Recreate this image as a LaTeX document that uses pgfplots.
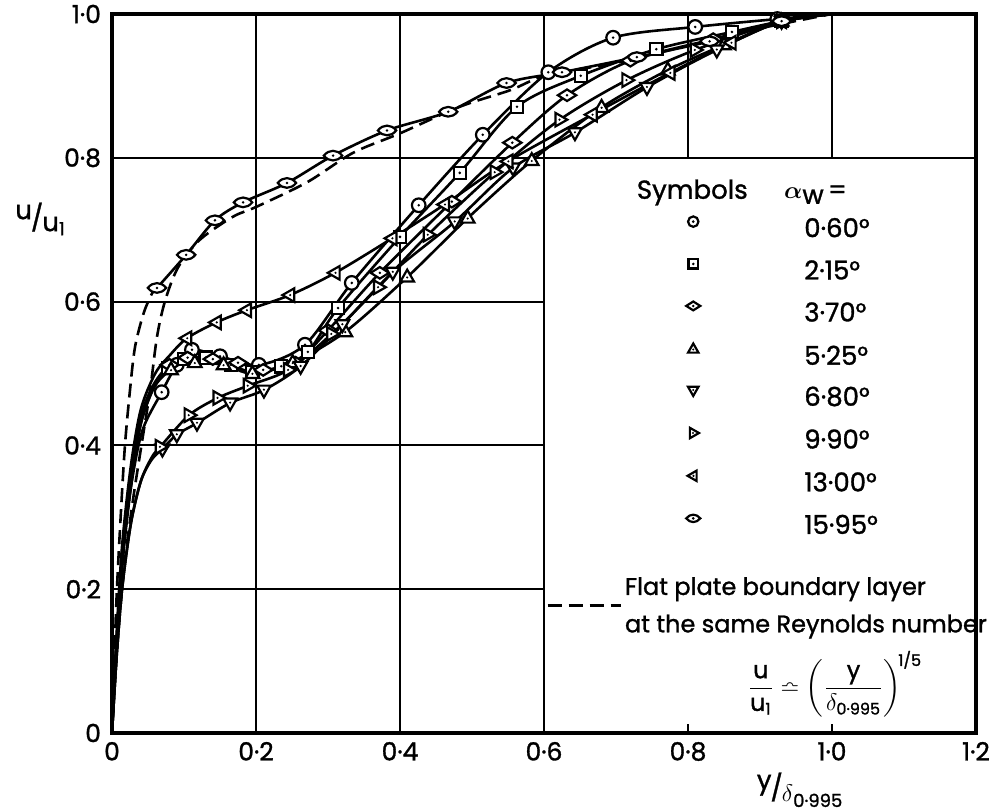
\documentclass[border=0pt]{standalone}
\usepackage{amsmath,amssymb}
\usepackage{fontspec}
\setmainfont{Poppins}[FakeBold=1.2]
\usepackage{pgfplots}
\usepackage{pgfplotstable}
\pgfplotsset{compat=1.18}

\pgfdeclareplotmark{dcircle}{%
  \pgfpathcircle{\pgfpointorigin}{\pgfplotmarksize}\pgfsetfillcolor{white}\pgfusepathqfillstroke
  \pgfpathcircle{\pgfpointorigin}{0.7pt}\pgfsetfillcolor{black}\pgfusepathqfill}
\pgfdeclareplotmark{dsquare}{%
  \pgfpathrectangle{\pgfpoint{-0.9\pgfplotmarksize}{-0.9\pgfplotmarksize}}{\pgfpoint{1.8\pgfplotmarksize}{1.8\pgfplotmarksize}}\pgfsetfillcolor{white}\pgfusepathqfillstroke
  \pgfpathcircle{\pgfpointorigin}{0.7pt}\pgfsetfillcolor{black}\pgfusepathqfill}
\pgfdeclareplotmark{ddiamond}{%
  \pgfpathmoveto{\pgfpoint{-1.35\pgfplotmarksize}{0pt}}\pgfpathlineto{\pgfpoint{0pt}{0.85\pgfplotmarksize}}\pgfpathlineto{\pgfpoint{1.35\pgfplotmarksize}{0pt}}\pgfpathlineto{\pgfpoint{0pt}{-0.85\pgfplotmarksize}}\pgfpathclose\pgfsetfillcolor{white}\pgfusepathqfillstroke
  \pgfpathcircle{\pgfpointorigin}{0.7pt}\pgfsetfillcolor{black}\pgfusepathqfill}
\pgfdeclareplotmark{deye}{%
  \pgfpathmoveto{\pgfpoint{-1.35\pgfplotmarksize}{0pt}}\pgfpathcurveto{\pgfpoint{-0.6\pgfplotmarksize}{0.95\pgfplotmarksize}}{\pgfpoint{0.6\pgfplotmarksize}{0.95\pgfplotmarksize}}{\pgfpoint{1.35\pgfplotmarksize}{0pt}}\pgfpathcurveto{\pgfpoint{0.6\pgfplotmarksize}{-0.95\pgfplotmarksize}}{\pgfpoint{-0.6\pgfplotmarksize}{-0.95\pgfplotmarksize}}{\pgfpoint{-1.35\pgfplotmarksize}{0pt}}\pgfpathclose\pgfsetfillcolor{white}\pgfusepathqfillstroke
  \pgfpathcircle{\pgfpointorigin}{0.7pt}\pgfsetfillcolor{black}\pgfusepathqfill}
\pgfdeclareplotmark{dtriup}{%
  \pgfpathmoveto{\pgfpoint{0pt}{1.1\pgfplotmarksize}}\pgfpathlineto{\pgfpoint{-1.0\pgfplotmarksize}{-0.65\pgfplotmarksize}}\pgfpathlineto{\pgfpoint{1.0\pgfplotmarksize}{-0.65\pgfplotmarksize}}\pgfpathclose\pgfsetfillcolor{white}\pgfusepathqfillstroke
  \pgfpathcircle{\pgfpoint{0pt}{-0.05\pgfplotmarksize}}{0.6pt}\pgfsetfillcolor{black}\pgfusepathqfill}
\pgfdeclareplotmark{dtridown}{%
  \pgfpathmoveto{\pgfpoint{0pt}{-1.1\pgfplotmarksize}}\pgfpathlineto{\pgfpoint{-1.0\pgfplotmarksize}{0.65\pgfplotmarksize}}\pgfpathlineto{\pgfpoint{1.0\pgfplotmarksize}{0.65\pgfplotmarksize}}\pgfpathclose\pgfsetfillcolor{white}\pgfusepathqfillstroke
  \pgfpathcircle{\pgfpoint{0pt}{0.05\pgfplotmarksize}}{0.6pt}\pgfsetfillcolor{black}\pgfusepathqfill}
\pgfdeclareplotmark{dtriright}{%
  \pgfpathmoveto{\pgfpoint{1.1\pgfplotmarksize}{0pt}}\pgfpathlineto{\pgfpoint{-0.65\pgfplotmarksize}{1.0\pgfplotmarksize}}\pgfpathlineto{\pgfpoint{-0.65\pgfplotmarksize}{-1.0\pgfplotmarksize}}\pgfpathclose\pgfsetfillcolor{white}\pgfusepathqfillstroke
  \pgfpathcircle{\pgfpoint{-0.05\pgfplotmarksize}{0pt}}{0.6pt}\pgfsetfillcolor{black}\pgfusepathqfill}
\pgfdeclareplotmark{dtrileft}{%
  \pgfpathmoveto{\pgfpoint{-1.1\pgfplotmarksize}{0pt}}\pgfpathlineto{\pgfpoint{0.65\pgfplotmarksize}{1.0\pgfplotmarksize}}\pgfpathlineto{\pgfpoint{0.65\pgfplotmarksize}{-1.0\pgfplotmarksize}}\pgfpathclose\pgfsetfillcolor{white}\pgfusepathqfillstroke
  \pgfpathcircle{\pgfpoint{0.05\pgfplotmarksize}{0pt}}{0.6pt}\pgfsetfillcolor{black}\pgfusepathqfill}

% alpha_w = 0.60
\pgfplotstableread{
x y
0 0
0.006 0.12
0.014 0.24
0.026 0.34
0.042 0.42
0.069 0.474
0.090 0.512
0.111 0.533
0.150 0.524
0.204 0.512
0.268 0.540
0.333 0.626
0.426 0.734
0.515 0.832
0.606 0.919
0.696 0.967
0.810 0.982
0.924 0.993
1.0 1.0
}\tA
% 2.15
\pgfplotstableread{
x y
0 0
0.006 0.12
0.014 0.24
0.026 0.35
0.040 0.43
0.058 0.48
0.078 0.508
0.100 0.520
0.130 0.522
0.165 0.512
0.195 0.502
0.235 0.510
0.272 0.530
0.314 0.591
0.400 0.690
0.483 0.779
0.5625 0.871
0.651 0.914
0.756 0.951
0.861 0.975
0.93 0.990
1.0 1.0
}\tB
% 3.70
\pgfplotstableread{
x y
0 0
0.006 0.12
0.014 0.25
0.026 0.36
0.040 0.44
0.058 0.485
0.080 0.512
0.105 0.522
0.140 0.520
0.175 0.515
0.210 0.505
0.255 0.515
0.300 0.560
0.372 0.640
0.472 0.739
0.556 0.821
0.632 0.887
0.720 0.935
0.835 0.965
0.93 0.99
1.0 1.0
}\tC
% 5.25
\pgfplotstableread{
x y
0 0
0.006 0.11
0.014 0.23
0.026 0.34
0.040 0.43
0.058 0.48
0.082 0.505
0.115 0.515
0.155 0.512
0.195 0.500
0.251 0.515
0.324 0.558
0.410 0.634
0.494 0.716
0.583 0.796
0.680 0.870
0.772 0.922
0.850 0.957
0.93 0.99
1.0 1.0
}\tD
% 6.80
\pgfplotstableread{
x y
0 0
0.006 0.10
0.014 0.20
0.026 0.29
0.040 0.35
0.055 0.38
0.070 0.395
0.090 0.415
0.118 0.431
0.164 0.459
0.211 0.477
0.262 0.510
0.320 0.568
0.390 0.641
0.476 0.711
0.557 0.786
0.643 0.835
0.743 0.898
0.840 0.950
0.93 0.99
1.0 1.0
}\tE
% 9.90
\pgfplotstableread{
x y
0 0
0.006 0.10
0.014 0.20
0.026 0.29
0.040 0.35
0.055 0.383
0.067 0.398
0.107 0.442
0.147 0.466
0.189 0.483
0.245 0.505
0.305 0.555
0.370 0.620
0.439 0.693
0.532 0.780
0.622 0.853
0.715 0.908
0.810 0.950
0.93 0.99
1.0 1.0
}\tF
% 13.00
\pgfplotstableread{
x y
0 0
0.006 0.13
0.014 0.26
0.026 0.37
0.040 0.45
0.060 0.50
0.080 0.525
0.104 0.549
0.145 0.571
0.187 0.588
0.247 0.609
0.310 0.640
0.389 0.688
0.462 0.735
0.550 0.795
0.667 0.860
0.775 0.918
0.860 0.960
0.93 0.99
1.0 1.0
}\tG
% 15.95 (measured part)
\pgfplotstableread{
x y
0.0625 0.619
0.103 0.665
0.143 0.713
0.182 0.738
0.243 0.765
0.307 0.803
0.382 0.838
0.467 0.864
0.548 0.904
0.625 0.919
0.729 0.940
0.830 0.962
0.93 0.99
1.0 1.0
}\tH
% 15.95 extension to the wall (dashed)
\pgfplotstableread{
x y
0 0
0.006 0.18
0.012 0.30
0.018 0.40
0.025 0.477
0.032 0.537
0.044 0.584
0.056 0.612
0.0625 0.619
}\tHw
% flat plate boundary layer
\pgfplotstableread{
x y
0 0
0.008 0.13
0.018 0.24
0.030 0.33
0.042 0.407
0.053 0.477
0.0625 0.551
0.074 0.602
0.092 0.648
0.122 0.686
0.168 0.718
0.201 0.732
0.271 0.766
0.335 0.807
0.400 0.834
0.483 0.871
0.553 0.894
0.604 0.915
0.700 0.932
0.800 0.956
0.900 0.980
1.000 1.000
}\tI

\begin{document}
\begin{tikzpicture}
\begin{axis}[
  scale only axis, width=432pt, height=359.5pt,
  xmin=0, xmax=1.2, ymin=0, ymax=1,
  xtick={0,0.2,0.4,0.6,0.8,1.0,1.2},
  xticklabels={0,0·2,0·4,0·6,0·8,1·0,1·2},
  ytick={0,0.2,0.4,0.6,0.8,1.0},
  yticklabels={0,0·2,0·4,0·6,0·8,1·0},
  major tick length=0pt,
  axis line style={line width=1.6pt},
  tick label style={font=\fontsize{12.5}{14}\selectfont},
  yticklabel style={xshift=-2pt},
  xticklabel style={yshift=-1pt},
  clip=false,
  every axis plot/.append style={line width=1.3pt, mark size=3.4pt, mark options={solid, line width=1.1pt}},
  legend image code/.code={\draw[#1, mark size=2.6pt] plot coordinates {(0pt,3.8pt)};},
  legend style={at={(axis cs:0.797,0.719)}, anchor=north west, draw=none, fill=none,
    inner sep=0pt, row sep=11pt, column sep=52pt,
    nodes={inner sep=0pt, text height=8pt, text depth=0pt, font=\fontsize{13}{15}\selectfont}},
  legend cell align=left,
]
% grid
\draw[line width=1pt] (axis cs:0.2,0) -- (axis cs:0.2,1);
\draw[line width=1pt] (axis cs:0.4,0) -- (axis cs:0.4,1);
\draw[line width=1pt] (axis cs:0.6,0) -- (axis cs:0.6,1);
\draw[line width=1pt] (axis cs:0.8,0.8) -- (axis cs:0.8,1);
\draw[line width=1pt] (axis cs:1.0,0.8) -- (axis cs:1.0,1);
\draw[line width=1pt] (axis cs:0,0.8) -- (axis cs:1.2,0.8);
\draw[line width=1pt] (axis cs:0,0.6) -- (axis cs:0.6,0.6);
\draw[line width=1pt] (axis cs:0,0.4) -- (axis cs:0.6,0.4);
\draw[line width=1pt] (axis cs:0,0.2) -- (axis cs:0.6,0.2);
\draw[line width=1pt] (axis cs:0.8,0) -- (axis cs:0.8,0.012);
\draw[line width=1pt] (axis cs:1.0,0) -- (axis cs:1.0,0.012);

% curves
\addplot[black, smooth, tension=0.5, dash pattern=on 7pt off 3.5pt, forget plot] table {\tI};
\addplot[black, smooth, tension=0.5, dash pattern=on 7pt off 3.5pt, forget plot] table {\tHw};
\addplot[black, smooth, tension=0.5, no marks, forget plot] table {\tA};
\addplot[black, smooth, tension=0.5, no marks, forget plot] table {\tB};
\addplot[black, smooth, tension=0.5, no marks, forget plot] table {\tC};
\addplot[black, smooth, tension=0.5, no marks, forget plot] table {\tD};
\addplot[black, smooth, tension=0.5, no marks, forget plot] table {\tE};
\addplot[black, smooth, tension=0.5, no marks, forget plot] table {\tF};
\addplot[black, smooth, tension=0.5, no marks, forget plot] table {\tG};
\addplot[black, smooth, tension=0.5, no marks, forget plot] table {\tH};

% markers
\addplot[black, only marks, mark=dcircle, skip coords between index={0}{5}, skip coords between index={18}{19}] table {\tA};
\addplot[black, only marks, mark=dsquare, skip coords between index={0}{6}, skip coords between index={21}{22}] table {\tB};
\addplot[black, only marks, mark=ddiamond, skip coords between index={0}{6}, skip coords between index={20}{21}] table {\tC};
\addplot[black, only marks, mark=dtriup, skip coords between index={0}{6}, skip coords between index={19}{20}] table {\tD};
\addplot[black, only marks, mark=dtridown, skip coords between index={0}{6}, skip coords between index={20}{21}] table {\tE};
\addplot[black, only marks, mark=dtriright, skip coords between index={0}{6}, skip coords between index={19}{20}] table {\tF};
\addplot[black, only marks, mark=dtrileft, skip coords between index={0}{7}, skip coords between index={19}{20}] table {\tG};
\addplot[black, only marks, mark=deye, skip coords between index={13}{14}] table {\tH};
\legend{0·60°,2·15°,3·70°,5·25°,6·80°,9·90°,13·00°,15·95°}

% legend header
\node[anchor=base, inner sep=0pt, font=\fontsize{13}{15}\selectfont] at (axis cs:0.806,0.743) {Symbols};
\node[anchor=base west, inner sep=0pt, font=\fontsize{13}{15}\selectfont] at (axis cs:0.933,0.743) {$\boldsymbol{\alpha}$\raisebox{-2.5pt}{w}\,=};

% flat plate note
\draw[line width=1.3pt, dash pattern=on 7pt off 3.5pt] (axis cs:0.605,0.177) -- (axis cs:0.707,0.177);
\node[anchor=base west, inner sep=0pt, font=\fontsize{12}{14}\selectfont] at (axis cs:0.712,0.192) {Flat plate boundary layer};
\node[anchor=base west, inner sep=0pt, font=\fontsize{12}{14}\selectfont] at (axis cs:0.712,0.140) {at the same Reynolds number};
\node[anchor=center, inner sep=0pt, font=\fontsize{12}{14}\selectfont] at (axis cs:1.004,0.068)
  {$\dfrac{\text{u}}{\text{u}_{\text{1}}}\bumpeq\biggl(\dfrac{\text{y}}{\delta_{\text{0·995}}}\biggr)^{\!\text{1/5}}$};

% axis labels
\node[font=\fontsize{13}{15}\selectfont] at (axis cs:-0.1,0.715)
  {\raisebox{4pt}{u}\kern-0.5pt/\kern-0.5pt\raisebox{-2pt}{u\raisebox{-2pt}{\small 1}}};
\node[font=\fontsize{13}{15}\selectfont] at (axis cs:0.955,-0.079)
  {\raisebox{4pt}{y}\kern-0.5pt/\kern-0.5pt\raisebox{-2pt}{$\delta$\raisebox{-3pt}{\small 0·995}}};
\end{axis}
\pgfresetboundingbox
\path ([xshift=-56pt,yshift=-39pt]current axis.south west) rectangle ([xshift=10.5pt,yshift=7pt]current axis.north east);
\end{tikzpicture}
\end{document}
